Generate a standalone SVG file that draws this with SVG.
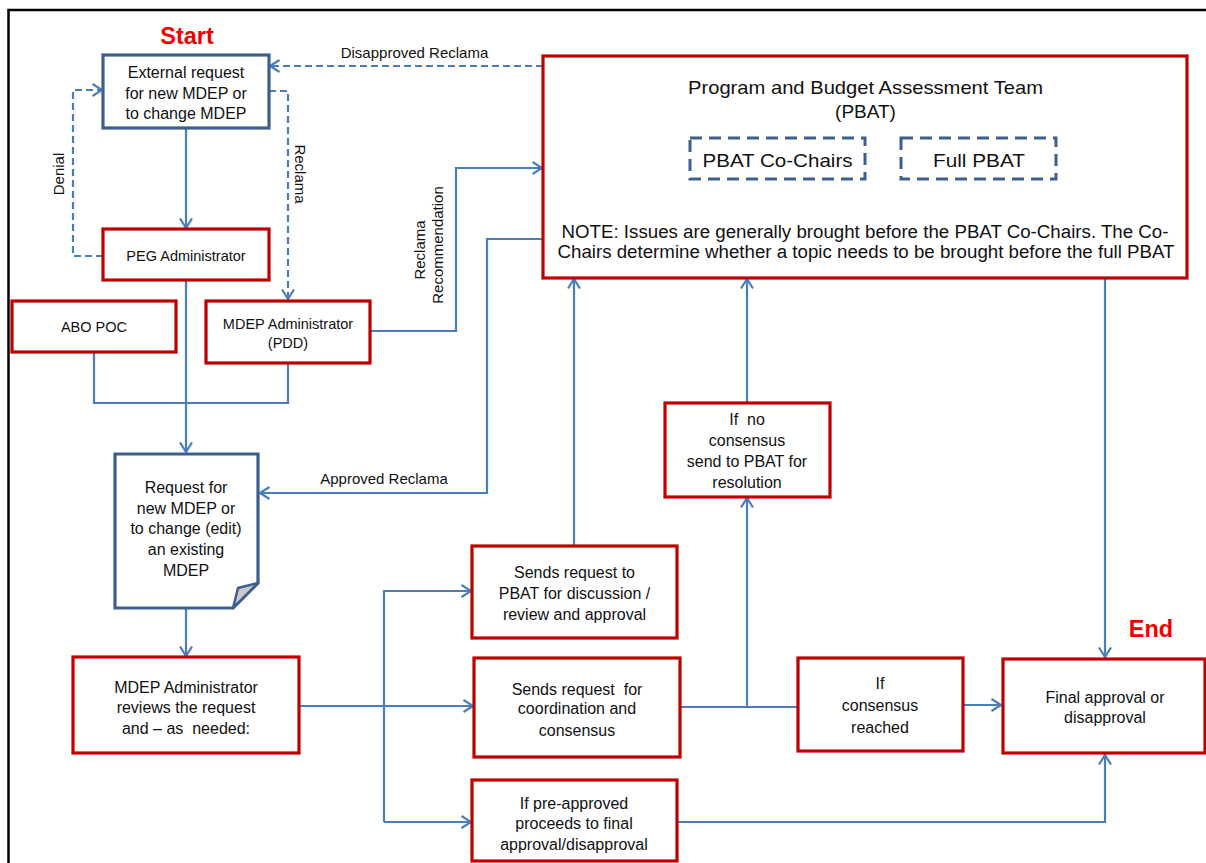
<svg xmlns="http://www.w3.org/2000/svg" width="1206" height="863" viewBox="0 0 1206 863">
<defs>
<style>
.frame{fill:none;stroke:#000;stroke-width:2.5}
.rbox{fill:#fff;stroke:#c00000;stroke-width:3.2}
.bbox{fill:#fff;stroke:#3c5f8c;stroke-width:3.2}
.dbox{fill:none;stroke:#3c5f8c;stroke-width:3;stroke-dasharray:12 7}
.c{fill:none;stroke:#4a7ebb;stroke-width:2.2}
.cd{fill:none;stroke:#4a7ebb;stroke-width:2.2;stroke-dasharray:7 4}
text{font-family:"Liberation Sans",Arial,sans-serif;fill:#111;text-anchor:middle}
.t16{font-size:16px}
.t14{font-size:14.5px}
.lbl{font-size:15px}
.pre{white-space:pre}
.big{font-size:23.5px;font-weight:bold;fill:#f00000}
</style>
<marker id="ah" viewBox="0 0 12 14" refX="10.5" refY="7" markerWidth="12" markerHeight="14" markerUnits="userSpaceOnUse" orient="auto">
<path d="M1,1 L10.5,7 L1,13" fill="none" stroke="#4a7ebb" stroke-width="2.2"/>
</marker>
</defs>
<rect width="1206" height="863" fill="#fff"/>
<path class="frame" d="M8.5,863 V10 H1206"/>

<g id="connectors">
<path class="c" d="M186,128 V228" marker-end="url(#ah)"/>
<path class="cd" d="M103,256 H73 V90 H102" marker-end="url(#ah)"/>
<path class="cd" d="M269,91 H288 V299" marker-end="url(#ah)"/>
<path class="cd" d="M543,66 H270" marker-end="url(#ah)"/>
<path class="c" d="M186,280 V452" marker-end="url(#ah)"/>
<path class="c" d="M94,352 V403 H288 V363"/>
<path class="c" d="M370,331 H456 V168 H542" marker-end="url(#ah)"/>
<path class="c" d="M543,239 H487 V493 H260" marker-end="url(#ah)"/>
<path class="c" d="M186,608 V656" marker-end="url(#ah)"/>
<path class="c" d="M299,706 H473" marker-end="url(#ah)"/>
<path class="c" d="M384,822 V591 H471" marker-end="url(#ah)"/>
<path class="c" d="M384,822 H471" marker-end="url(#ah)"/>
<path class="c" d="M574,546 V279" marker-end="url(#ah)"/>
<path class="c" d="M680,707 H798"/>
<path class="c" d="M747,707 V498" marker-end="url(#ah)"/>
<path class="c" d="M747,403 V279" marker-end="url(#ah)"/>
<path class="c" d="M963,705 H1001" marker-end="url(#ah)"/>
<path class="c" d="M1105,278 V657" marker-end="url(#ah)"/>
<path class="c" d="M677,822 H1105 V755" marker-end="url(#ah)"/>
<text class="lbl" x="414.5" y="58">Disapproved Reclama</text>
<text class="lbl" x="384" y="484">Approved Reclama</text>
<text class="lbl" transform="translate(64,174) rotate(-90)">Denial</text>
<text class="lbl" transform="translate(295,174) rotate(90)">Reclama</text>
<text class="lbl" transform="translate(425,250) rotate(-90)">Reclama</text>
<text class="lbl" transform="translate(443,245) rotate(-90)">Recommendation</text>
</g>

<g id="start-label"><text class="big" x="187" y="44">Start</text></g>
<g id="end-label"><text class="big" x="1151" y="637">End</text></g>

<g id="external-request">
<rect class="bbox" x="103" y="55" width="166" height="73"/>
<text class="t16" x="186" y="77.5">External request</text>
<text class="t16" x="186" y="98.5">for new MDEP or</text>
<text class="t16" x="186" y="118.5">to change MDEP</text>
</g>

<g id="peg-admin">
<rect class="rbox" x="103" y="229" width="166" height="51"/>
<text class="t14" x="186" y="261">PEG Administrator</text>
</g>

<g id="abo-poc">
<rect class="rbox" x="12" y="301" width="164" height="51"/>
<text class="t14" x="94" y="332">ABO POC</text>
</g>

<g id="mdep-admin-pdd">
<rect class="rbox" x="206" y="301" width="164" height="62"/>
<text class="t14" x="288" y="328.5">MDEP Administrator</text>
<text class="t14" x="288" y="348">(PDD)</text>
</g>

<g id="request-doc">
<path class="bbox" d="M115,454 H258 V583 L233,608 H115 Z"/>
<path d="M258,583 L238,588 L233,608 Z" fill="#c9c9c9" stroke="#3c5f8c" stroke-width="2.5" stroke-linejoin="round"/>
<text class="t16" x="186" y="492.5">Request for</text>
<text class="t16" x="186" y="513.5">new MDEP or</text>
<text class="t16" x="186" y="533.5">to change (edit)</text>
<text class="t16" x="186" y="554.5">an existing</text>
<text class="t16" x="186" y="575.5">MDEP</text>
</g>

<g id="mdep-review">
<rect class="rbox" x="73" y="657" width="226" height="96"/>
<text class="t16" x="186" y="692.5">MDEP Administrator</text>
<text class="t16" x="186" y="712.5">reviews the request</text>
<text class="t16 pre" x="186" y="733.5">and – as  needed:</text>
</g>

<g id="send-pbat">
<rect class="rbox" x="472" y="546" width="205" height="92"/>
<text class="t16" x="574.5" y="577.5">Sends request to</text>
<text class="t16" x="574.5" y="598.5">PBAT for discussion /</text>
<text class="t16" x="574.5" y="619.5">review and approval</text>
</g>

<g id="send-coord">
<rect class="rbox" x="474" y="658" width="206" height="99"/>
<text class="t16 pre" x="577" y="694.5">Sends request  for</text>
<text class="t16" x="577" y="713.5">coordination and</text>
<text class="t16" x="577" y="735.5">consensus</text>
</g>

<g id="pre-approved">
<rect class="rbox" x="472" y="780" width="205" height="81"/>
<text class="t16" x="574" y="808.5">If pre-approved</text>
<text class="t16" x="574" y="828.5">proceeds to final</text>
<text class="t16" x="574" y="849.5">approval/disapproval</text>
</g>

<g id="no-consensus">
<rect class="rbox" x="665" y="403" width="165" height="94"/>
<text class="t16 pre" x="747" y="424.5">If  no</text>
<text class="t16" x="747" y="445.5">consensus</text>
<text class="t16" x="747" y="466.5">send to PBAT for</text>
<text class="t16" x="747" y="487.5">resolution</text>
</g>

<g id="consensus-reached">
<rect class="rbox" x="798" y="658" width="165" height="93"/>
<text class="t16" x="880" y="688.5">If</text>
<text class="t16" x="880" y="710.5">consensus</text>
<text class="t16" x="880" y="732.5">reached</text>
</g>

<g id="final-approval">
<rect class="rbox" x="1003" y="659" width="202" height="94"/>
<text class="t16" x="1105" y="702.5">Final approval or</text>
<text class="t16" x="1105" y="722.5">disapproval</text>
</g>

<g id="pbat">
<rect class="rbox" x="543" y="56" width="644" height="222"/>
<text x="865.5" y="94" style="font-size:19px" textLength="355" lengthAdjust="spacingAndGlyphs">Program and Budget Assessment Team</text>
<text x="865.5" y="118" style="font-size:19px">(PBAT)</text>
<g id="pbat-cochairs">
<rect class="dbox" x="690" y="138" width="175" height="41"/>
<text x="777.5" y="167" style="font-size:19px" textLength="150" lengthAdjust="spacingAndGlyphs">PBAT Co-Chairs</text>
</g>
<g id="full-pbat">
<rect class="dbox" x="901" y="138" width="155" height="41"/>
<text x="979" y="167" style="font-size:19px" textLength="92" lengthAdjust="spacingAndGlyphs">Full PBAT</text>
</g>
<text x="865" y="238" style="font-size:18px" textLength="607" lengthAdjust="spacingAndGlyphs">NOTE: Issues are generally brought before the PBAT Co-Chairs. The Co-</text>
<text x="866" y="258" style="font-size:18px" textLength="617" lengthAdjust="spacingAndGlyphs">Chairs determine whether a topic needs to be brought before the full PBAT</text>
</g>
</svg>
